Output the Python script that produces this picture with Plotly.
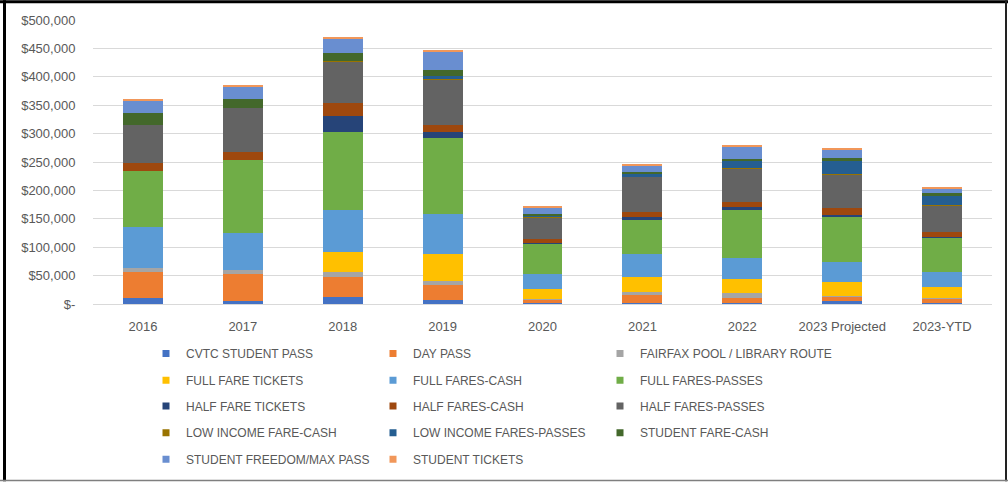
import plotly.graph_objects as go

# Fare revenue by category and year
years = ["2016", "2017", "2018", "2019", "2020", "2021", "2022", "2023 Projected", "2023-YTD"]

cvtc_student_pass = [10500, 4600, 12800, 6400, 1500, 1700, 1700, 4600, 2300]
day_pass = [45800, 47700, 34800, 27300, 5600, 13400, 8800, 8200, 7600]
fairfax_pool_library = [7600, 8100, 9300, 7500, 1000, 5200, 8100, 500, 300]
full_fare_tickets = [0, 0, 35400, 47100, 18600, 27900, 25500, 25000, 20300]
full_fares_cash = [70800, 65000, 73200, 69700, 25600, 40600, 37200, 36000, 26100]
full_fares_passes = [98700, 128400, 137600, 134700, 54000, 59300, 84800, 80200, 61000]
half_fare_tickets = [0, 0, 27300, 9300, 1700, 5200, 4000, 1700, 1200]
half_fares_cash = [15100, 13300, 22700, 12700, 7000, 9300, 9900, 12200, 8100]
half_fares_passes = [66200, 77300, 73700, 80200, 37700, 61000, 58700, 59200, 47000]
low_income_fare_cash = [0, 0, 1200, 1000, 500, 500, 500, 1200, 500]
low_income_fares_passes = [0, 0, 0, 5800, 1500, 4100, 12200, 22600, 16400]
student_fare_cash = [21500, 17400, 13300, 10500, 3800, 4700, 4700, 6400, 4600]
student_freedom_max_pass = [22100, 21500, 26200, 31900, 11600, 11000, 20300, 14000, 8100]
student_tickets = [1700, 1700, 2300, 1800, 1800, 2300, 1800, 1700, 2900]

series_names = [
    "CVTC STUDENT PASS", "DAY PASS", "FAIRFAX POOL / LIBRARY ROUTE",
    "FULL FARE TICKETS", "FULL FARES-CASH", "FULL FARES-PASSES",
    "HALF FARE TICKETS", "HALF FARES-CASH", "HALF FARES-PASSES",
    "LOW INCOME FARE-CASH", "LOW INCOME FARES-PASSES", "STUDENT FARE-CASH",
    "STUDENT FREEDOM/MAX PASS", "STUDENT TICKETS",
]
series_values = [
    cvtc_student_pass, day_pass, fairfax_pool_library,
    full_fare_tickets, full_fares_cash, full_fares_passes,
    half_fare_tickets, half_fares_cash, half_fares_passes,
    low_income_fare_cash, low_income_fares_passes, student_fare_cash,
    student_freedom_max_pass, student_tickets,
]
series_colors = [
    "#4472C4", "#ED7D31", "#A5A5A5",
    "#FFC000", "#5B9BD5", "#70AD47",
    "#264478", "#9E480E", "#636363",
    "#997300", "#255E91", "#43682B",
    "#698ED0", "#F1975A",
]

y_tick_values = [0, 50000, 100000, 150000, 200000, 250000, 300000, 350000, 400000, 450000, 500000]
y_tick_labels = ["$-", "$50,000", "$100,000", "$150,000", "$200,000", "$250,000",
                 "$300,000", "$350,000", "$400,000", "$450,000", "$500,000"]

W, H = 1008, 486
ML, MR, MT, MB = 93, 16, 20, 179
PW, PH = W - ML - MR, H - MT - MB

def px_x(px):
    return (px - ML) / PW

def px_y(py):
    return (H - MB - py) / PH

TEXT = "#595959"
GRID = "#D9D9D9"
FONT = "Liberation Sans"

fig = go.Figure()

for name, vals, color in zip(series_names, series_values, series_colors):
    fig.add_trace(go.Bar(
        x=years, y=vals, name=name,
        marker=dict(color=color, line=dict(width=0)),
        showlegend=False,
    ))

# legend entries: one legend per row, three entries each
legend_ids = ["legend", "legend2", "legend3", "legend4", "legend5"]
for i, (name, color) in enumerate(zip(series_names, series_colors)):
    fig.add_trace(go.Scatter(
        x=[None], y=[None], mode="markers", name=name,
        marker=dict(symbol="square", size=7, color=color),
        legend=legend_ids[i // 3], showlegend=True,
        legendwidth=230 if i % 3 == 2 else None,
    ))

row_y = [357, 384, 410, 437, 464]
legend_layouts = {}
for lid, ry in zip(legend_ids, row_y):
    legend_layouts[lid] = dict(
        orientation="h", x=px_x(146), xanchor="left",
        y=px_y(ry), yanchor="middle",
        entrywidth=182, font=dict(family=FONT, size=12, color=TEXT),
        bgcolor="rgba(0,0,0,0)", traceorder="normal",
        itemclick=False, itemdoubleclick=False,
    )

# outer frame
frame = [
    dict(x0=px_x(0), x1=px_x(W), y0=px_y(1.5), y1=px_y(1.5), color="#000000", width=3),
    dict(x0=px_x(4.5), x1=px_x(4.5), y0=px_y(0), y1=px_y(H), color="#000000", width=3),
    dict(x0=px_x(1006), x1=px_x(1006), y0=px_y(0), y1=px_y(H), color="#222222", width=2),
    dict(x0=px_x(0), x1=px_x(W), y0=px_y(H - 0.75), y1=px_y(H - 0.75), color="#7F7F7F", width=1.5),
]
shapes = [
    dict(type="line", xref="paper", yref="paper", x0=s["x0"], x1=s["x1"], y0=s["y0"], y1=s["y1"],
         line=dict(color=s["color"], width=s["width"]), layer="above")
    for s in frame
]

fig.update_layout(
    width=W, height=H,
    margin=dict(l=ML, r=MR, t=MT, b=MB, pad=0),
    barmode="stack", bargap=0.6,
    paper_bgcolor="#FFFFFF", plot_bgcolor="#FFFFFF",
    font=dict(family=FONT, size=12, color=TEXT),
    xaxis=dict(
        type="category", showgrid=False, showline=True, linecolor=GRID, linewidth=1,
        ticks="outside", ticklen=10, tickcolor="rgba(0,0,0,0)",
        tickfont=dict(family=FONT, size=13, color=TEXT), fixedrange=True,
    ),
    yaxis=dict(
        range=[0, 500000], tickvals=y_tick_values, ticktext=y_tick_labels,
        showgrid=True, gridcolor=GRID, gridwidth=1, zeroline=False, showline=False,
        ticks="outside", ticklen=14, tickcolor="rgba(0,0,0,0)",
        tickfont=dict(family=FONT, size=13, color=TEXT), fixedrange=True,
    ),
    shapes=shapes,
    **legend_layouts,
)

fig.write_html("out.html")
